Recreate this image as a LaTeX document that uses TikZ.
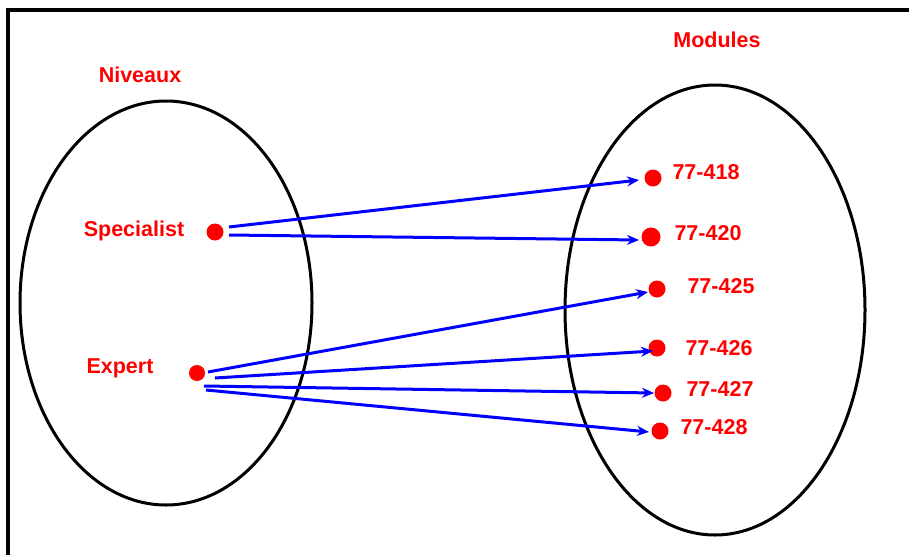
\documentclass[tikz,border=0pt]{standalone}
\usepackage{fontspec}
\setmainfont{Liberation Sans}
\usetikzlibrary{arrows.meta}
\definecolor{lblred}{RGB}{255,0,0}
\definecolor{arrblue}{RGB}{0,0,255}
\tikzset{
  lbl/.style={text=lblred, font=\fontsize{21.5}{25}\selectfont\bfseries, inner sep=0pt},
  dot/.style={circle, fill=lblred, inner sep=0pt, minimum size=#1},
  dot/.default=15pt,
  set/.style={draw=black, line width=3pt},
  arr/.style={draw=arrblue, line width=3pt, -{Stealth[length=12pt,width=10pt]}},
}
\begin{document}
\begin{tikzpicture}[x=1pt,y=-1pt]
\useasboundingbox (0,0) rectangle (909,554);
\draw[line width=3.2pt] (8,560) -- (8,10) -- (915,10);
% sets
\draw[set] (166,303) ellipse [x radius=146, y radius=202];
\draw[set] (715,310) ellipse [x radius=150, y radius=225];
% titles
\node[lbl] (niv) at (140,75) {Niveaux};
\node[lbl] (mod) at (717,40) {Modules};
% left elements
\node[lbl] (spec) at (134,231) {Specialist};
\node[lbl] (exp) at (120,368) {Expert};
\node[dot=17pt] (ds) at (215,232) {};
\node[dot=16pt] (de) at (197,373) {};
% right elements
\node[dot=17pt] (d418) at (653,178) {};
\node[dot=19pt] (d420) at (651,237) {};
\node[dot=17pt] (d425) at (657,289) {};
\node[dot=17pt] (d426) at (657,348) {};
\node[dot=17pt] (d427) at (663,393) {};
\node[dot=17pt] (d428) at (660,431) {};
\node[lbl] (l418) at (706,172) {77-418};
\node[lbl] (l420) at (708,233) {77-420};
\node[lbl] (l425) at (721,286) {77-425};
\node[lbl] (l426) at (719,348) {77-426};
\node[lbl] (l427) at (720,389) {77-427};
\node[lbl] (l428) at (714,427) {77-428};
% arrow ends
\coordinate (s1) at (229,227);
\coordinate (s2) at (229,235);
\coordinate (e1) at (208,372);
\coordinate (e2) at (215,378);
\coordinate (e3) at (204,386);
\coordinate (e4) at (206,390);
\coordinate (t418) at (639,180);
\coordinate (t420) at (639,240);
\coordinate (t425) at (648,292);
\coordinate (t426) at (653,351);
\coordinate (t427) at (654,393);
\coordinate (t428) at (649,432);
\draw[arr] (s1) -- (t418);
\draw[arr] (s2) -- (t420);
\draw[arr] (e1) -- (t425);
\draw[arr] (e2) -- (t426);
\draw[arr] (e3) -- (t427);
\draw[arr] (e4) -- (t428);
\end{tikzpicture}
\end{document}
